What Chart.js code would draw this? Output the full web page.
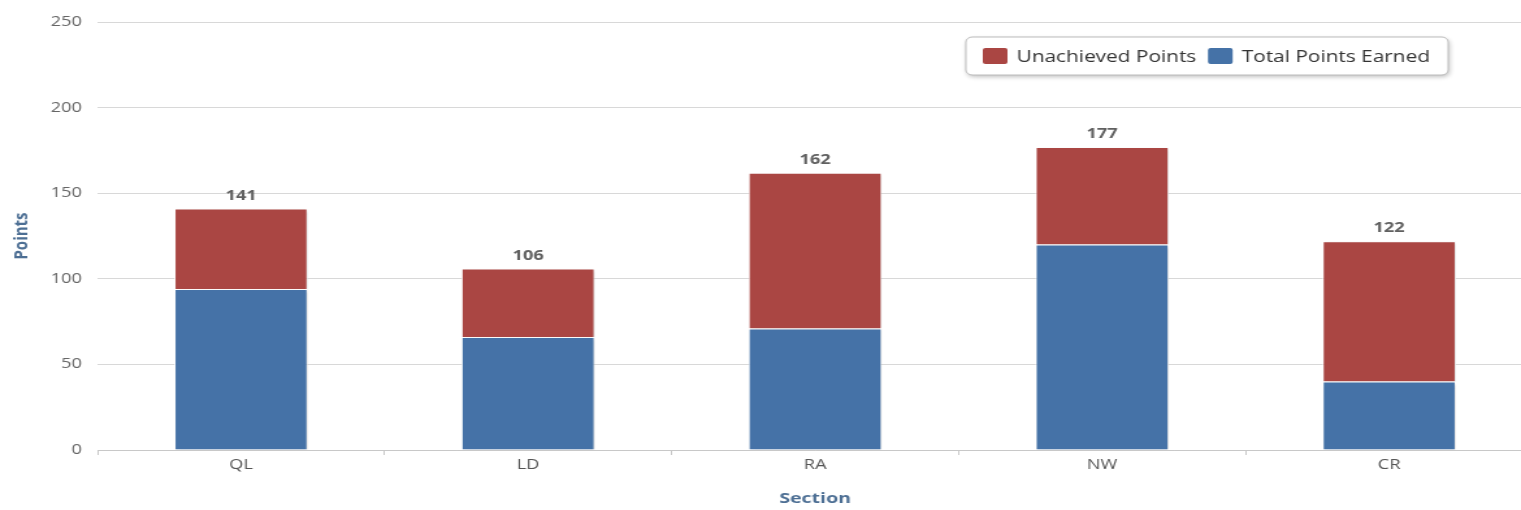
<!DOCTYPE html>
<html>
<head>
<meta charset="utf-8">
<script src="https://cdn.jsdelivr.net/npm/chart.js@4"></script>
<style>
  html, body { margin: 0; padding: 0; background: #fff; overflow: hidden; }
  /* the source screenshot is stretched sideways, so stretch ours the same way */
  #wrap { width: 1185px; height: 510px; position: relative; transform: scaleX(1.3); transform-origin: 0 0; }
</style>
</head>
<body>
<div id="wrap"><canvas id="mainChart"></canvas></div>
<script>
// data
const sections = ['QL', 'LD', 'RA', 'NW', 'CR'];
const totalPointsEarned = [94, 66, 71, 120, 40];
const unachievedPoints = [47, 40, 91, 57, 82];
const sectionTotals = [141, 106, 162, 177, 122];
const yTicks = [0, 50, 100, 150, 200, 250];

const FONT = '"Open Sans", "DejaVu Sans", sans-serif';

// legend box drawn inside the plot, top right
const boxLegend = {
    id: 'boxLegend',
    afterDraw(chart) {
        const ctx = chart.ctx;
        const x = 743, y = 37, w = 371, h = 38;
        ctx.save();
        ctx.shadowColor = 'rgba(0,0,0,0.25)';
        ctx.shadowBlur = 4;
        ctx.shadowOffsetX = 1;
        ctx.shadowOffsetY = 2;
        ctx.fillStyle = '#fff';
        ctx.beginPath();
        ctx.roundRect(x, y, w, h, 5);
        ctx.fill();
        ctx.shadowColor = 'transparent';
        ctx.strokeStyle = '#bbbbbb';
        ctx.lineWidth = 1;
        ctx.stroke();

        ctx.font = '16px ' + FONT;
        ctx.textBaseline = 'middle';
        let cx = x + 13;
        const items = chart.data.datasets.slice().reverse();
        items.forEach(ds => {
            ctx.fillStyle = ds.backgroundColor;
            ctx.beginPath();
            ctx.roundRect(cx, y + 11, 19, 16, 2);
            ctx.fill();
            cx += 26;
            ctx.fillStyle = '#333';
            ctx.fillText(ds.label, cx, y + h / 2 + 1);
            cx += ctx.measureText(ds.label).width + 9;
        });
        ctx.restore();
    }
};

// totals above each stack
const stackTotals = {
    id: 'stackTotals',
    afterDatasetsDraw(chart) {
        const ctx = chart.ctx;
        const meta = chart.getDatasetMeta(chart.data.datasets.length - 1);
        ctx.save();
        ctx.font = 'bold 14px ' + FONT;
        ctx.fillStyle = '#606060';
        ctx.textAlign = 'center';
        ctx.textBaseline = 'bottom';
        meta.data.forEach((bar, i) => {
            ctx.fillText(sectionTotals[i], bar.x, bar.y - 6);
        });
        ctx.restore();
    }
};

// soft shadow on bars
const barShadow = {
    id: 'barShadow',
    beforeDatasetsDraw(chart) {
        const ctx = chart.ctx;
        ctx.save();
        ctx.shadowColor = 'rgba(0,0,0,0.12)';
        ctx.shadowBlur = 3;
        ctx.shadowOffsetX = 2;
        ctx.shadowOffsetY = 1;
    },
    afterDatasetsDraw(chart) {
        chart.ctx.restore();
    }
};

const ctx = document.getElementById('mainChart').getContext('2d');
const chart = new Chart(ctx, {
    type: 'bar',
    data: {
        labels: sections,
        datasets: [{
            label: 'Total Points Earned',
            data: totalPointsEarned,
            backgroundColor: '#4572A7',
            borderColor: '#ffffff',
            borderWidth: 1
        }, {
            label: 'Unachieved Points',
            data: unachievedPoints,
            backgroundColor: '#AA4643',
            borderColor: '#ffffff',
            borderWidth: 1
        }]
    },
    options: {
        responsive: true,
        maintainAspectRatio: false,
        animation: false,
        layout: {
            padding: { top: 22, right: 6, left: 0, bottom: 0 }
        },
        datasets: {
            bar: { categoryPercentage: 1, barPercentage: 0.465 }
        },
        plugins: {
            legend: { display: false },
            tooltip: { enabled: false }
        },
        scales: {
            x: {
                stacked: true,
                grid: {
                    drawOnChartArea: false,
                    drawTicks: true,
                    tickLength: 5,
                    color: '#c8c8c8'
                },
                border: { color: '#c8c8c8' },
                ticks: {
                    color: '#555',
                    font: { family: FONT, size: 14 },
                    padding: 2
                },
                title: {
                    display: true,
                    text: 'Section',
                    color: '#4d6f94',
                    font: { family: FONT, size: 15, weight: 'bold' },
                    padding: { top: 4, bottom: 2 }
                },
                afterFit(scale) { scale.height = 60; }
            },
            y: {
                stacked: true,
                min: 0,
                max: 250,
                afterBuildTicks(scale) {
                    scale.ticks = yTicks.map(v => ({ value: v }));
                },
                grid: {
                    color: '#d8d8d8',
                    drawTicks: false
                },
                border: { display: false },
                ticks: {
                    color: '#666',
                    font: { family: FONT, size: 14 },
                    padding: 12
                },
                title: {
                    display: true,
                    text: 'Points',
                    color: '#4d6f94',
                    font: { family: FONT, size: 15, weight: 'bold' },
                    padding: { top: 8, bottom: 0 }
                },
                afterFit(scale) { scale.width = 75; }
            }
        }
    },
    plugins: [barShadow, stackTotals, boxLegend]
});
</script>
</body>
</html>
